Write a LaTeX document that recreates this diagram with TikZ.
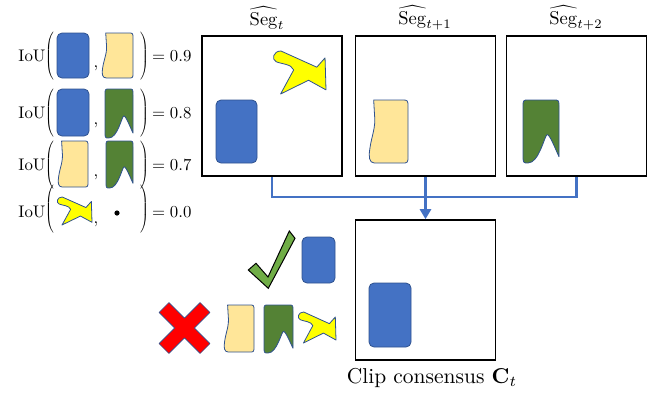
\documentclass[tikz,border=0pt]{standalone}
\usepackage{graphicx}
\usetikzlibrary{arrows.meta}
\definecolor{sblue}{HTML}{4472C4}
\definecolor{sedge}{HTML}{2F528F}
\definecolor{stan}{HTML}{FFE699}
\definecolor{sgreen}{HTML}{548235}
\definecolor{syellow}{HTML}{FFFF00}
\definecolor{scheck}{HTML}{70AD47}
\definecolor{sred}{HTML}{FF0000}
\tikzset{
  shp/.style={draw=sedge,line width=0.8pt,line join=round},
  framebox/.style={draw=black,line width=1.6pt,minimum width=140pt,minimum height=140pt,inner sep=0pt},
  conn/.style={draw=sblue,line width=2.6pt},
  lbl/.style={inner sep=0pt,font=\fontsize{10}{12}\selectfont},
  par/.style={inner sep=0pt,font=\fontsize{10}{12}\selectfont}
}
\newcommand\Lbl[1]{\scalebox{1.68}{#1}}
\newcommand\BlueS[4]{\draw[shp,fill=sblue,rounded corners=5pt] (#1,#2) rectangle ++(#3,#4);}
\newcommand\TanS[4]{\begin{scope}[shift={(#1,#2)},xscale=#3,yscale=#4]
\draw[shp,fill=stan] (0.12,0) -- (0.84,0) .. controls (1,0) .. (1,0.12) -- (1,0.88) .. controls (1,1) .. (0.84,1) -- (0.14,1) .. controls (0,1) and (-0.01,0.9) .. (0.02,0.78) .. controls (0.07,0.55) and (0.18,0.45) .. (0.14,0.22) .. controls (0.12,0.1) .. (0.12,0) -- cycle;
\end{scope}}
\newcommand\GreenS[4]{\begin{scope}[shift={(#1,#2)},xscale=#3,yscale=#4]
\draw[shp,fill=sgreen] (0,0.12) .. controls (0,0) .. (0.15,0) -- (0.85,0) .. controls (1,0) .. (1,0.12) -- (1,0.9) .. controls (0.9,0.78) and (0.74,0.54) .. (0.67,0.55) .. controls (0.6,0.56) and (0.45,1) .. (0.14,1) .. controls (0,1) .. (0,0.86) -- cycle;
\end{scope}}
\newcommand\YellowS[4]{\begin{scope}[shift={(#1,#2)},xscale=#3,yscale=#4]
\draw[shp,fill=syellow] (0.15,0) -- (0.826,0.376) -- (0.982,0.16) -- (1,0.904) -- (0.67,0.68) -- (0.143,1) -- (0.39,0.44) .. controls (0.35,0.3) and (0.15,0.3) .. (0.06,0.25) .. controls (-0.03,0.2) and (0,0) .. (0.15,0) -- cycle;
\end{scope}}
\newcommand\BigParen[3]{\node[par] (#1) at (#2) {$\left#3\vrule height 21pt depth 21pt width 0pt\right.$};}
\begin{document}
\begin{tikzpicture}[x=1pt,y=-1pt]
\useasboundingbox (0,0) rectangle (655,392);
% ---- left IoU rows
\node[lbl] (iou1) at (32,56) {\Lbl{IoU}};
\BigParen{lp1}{50,56}{(}
\BigParen{rp1}{145,56}{)}
\node[lbl] (cm1) at (96,68) {\Lbl{,}};
\node[lbl,anchor=west] (v1) at (152,56) {\Lbl{$=0.9$}};
\BlueS{57}{33}{32}{45}
\TanS{102}{33}{31}{45}
\node[lbl] (iou2) at (32,113) {\Lbl{IoU}};
\BigParen{lp2}{50,113}{(}
\BigParen{rp2}{145,113}{)}
\node[lbl] (cm2) at (96,125) {\Lbl{,}};
\node[lbl,anchor=west] (v2) at (152,113) {\Lbl{$=0.8$}};
\BlueS{57}{89}{32}{47}
\GreenS{105}{89}{28}{49}
\node[lbl] (iou3) at (32,165) {\Lbl{IoU}};
\BigParen{lp3}{50,165}{(}
\BigParen{rp3}{145,165}{)}
\node[lbl] (cm3) at (96,177) {\Lbl{,}};
\node[lbl,anchor=west] (v3) at (152,165) {\Lbl{$=0.7$}};
\TanS{58}{141}{30}{46}
\GreenS{106}{141}{27}{47}
\node[lbl] (iou4) at (32,212) {\Lbl{IoU}};
\BigParen{lp4}{50,209}{(}
\BigParen{rp4}{145,209}{)}
\node[lbl] (cm4) at (96,224) {\Lbl{,}};
\node[lbl,anchor=west] (v4) at (152,212) {\Lbl{$=0.0$}};
\YellowS{57}{197}{35}{28}
\fill[black] (117,213) circle (2.6pt);
% ---- frames
\node[framebox] (b1) at (272,106) {};
\node[framebox] (b2) at (425.5,106) {};
\node[framebox] (b3) at (576.5,106) {};
\node[framebox] (bc) at (425.5,290) {};
\node[lbl] (t1) at (267,18) {\scalebox{1.85}{$\widehat{\mathrm{Seg}}_t$}};
\node[lbl] (t2) at (425,18) {\scalebox{1.85}{$\widehat{\mathrm{Seg}}_{t+1}$}};
\node[lbl] (t3) at (576,18) {\scalebox{1.85}{$\widehat{\mathrm{Seg}}_{t+2}$}};
\node[lbl] (cap) at (432,378) {\scalebox{2.15}{Clip consensus $\mathbf{C}_t$}};
% ---- shapes inside frames
\BlueS{216}{100}{41}{63}
\YellowS{273}{51}{53}{43}
\TanS{369}{100}{39}{63}
\GreenS{523}{100}{36}{63}
\BlueS{369}{283}{42}{64}
% ---- connectors
\coordinate (j) at (425.5,197);
\draw[conn] (b1.south) |- (j) -| (b3.south);
\draw[conn,-{Triangle[length=10pt,width=11pt]}] (b2.south) -- (bc.north);
% ---- check and cross
\draw[draw=black,line width=1pt,fill=scheck,line join=miter] (248.3,270) -- (268.3,288.3) -- (295,238.3) -- (289.3,231) -- (268,277) -- (256,263.3) -- cycle;
\BlueS{302}{237}{33}{46}
\begin{scope}[shift={(184.5,328)},rotate=45]
\draw[shp,fill=sred,line width=0.6pt] (-7,-29) -- (7,-29) -- (7,-7) -- (29,-7) -- (29,7) -- (7,7) -- (7,29) -- (-7,29) -- (-7,7) -- (-29,7) -- (-29,-7) -- (-7,-7) -- cycle;
\end{scope}
\TanS{224}{305}{30}{47}
\GreenS{264}{305}{29}{48}
\YellowS{298}{312}{38}{31}
\end{tikzpicture}
\end{document}
